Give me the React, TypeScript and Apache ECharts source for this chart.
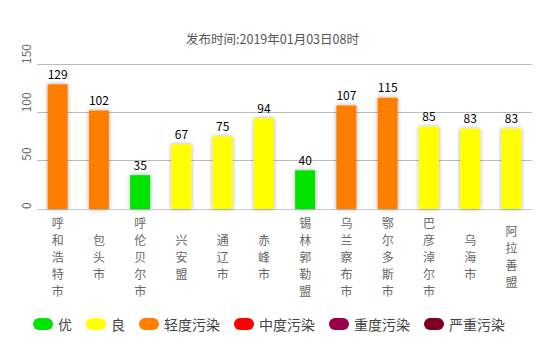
import React, { useEffect, useRef } from "react";
import * as echarts from "echarts";

const titleText = "发布时间:2019年01月03日08时";
const cities = ["呼和浩特市", "包头市", "呼伦贝尔市", "兴安盟", "通辽市", "赤峰市", "锡林郭勒盟", "乌兰察布市", "鄂尔多斯市", "巴彦淖尔市", "乌海市", "阿拉善盟"];
const aqiValues = [129, 102, 35, 67, 75, 94, 40, 107, 115, 85, 83, 83];
const levelNames = ["优", "良", "轻度污染", "中度污染", "重度污染", "严重污染"];
const levelColors = ["#00e400", "#ffff00", "#ff7e00", "#ff0000", "#99004c", "#7e0023"];
const levelUpper = [50, 100, 150, 200, 300, 100000];
const yTicks = [0, 50, 100, 150];

const FONT = "'Microsoft YaHei', 'Noto Sans CJK SC', sans-serif";

function levelOf(v: number): number {
  for (let i = 0; i < levelUpper.length; i++) if (v <= levelUpper[i]) return i;
  return levelUpper.length - 1;
}

export default function App() {
  const ref = useRef<HTMLDivElement>(null);
  useEffect(() => {
    if (!ref.current) return;
    const chart = echarts.init(ref.current, null, { renderer: "svg" });
    const series = levelNames.map((name, li) => ({
      name,
      type: "bar",
      stack: "aqi",
      barWidth: 20,
      itemStyle: {
        color: levelColors[li],
        shadowColor: "rgba(0,0,0,0.35)",
        shadowBlur: 4,
      },
      label: {
        show: true,
        position: "top",
        color: "#000",
        fontSize: 12,
        fontFamily: FONT,
      },
      data: aqiValues.map((v) => (levelOf(v) === li ? v : "-")),
    }));
    chart.setOption({
      animation: false,
      title: {
        text: titleText,
        left: "center",
        top: 27,
        textStyle: { fontSize: 12.5, fontWeight: "normal", color: "#555", fontFamily: FONT },
      },
      legend: {
        data: levelNames,
        bottom: 12,
        left: 28,
        itemWidth: 20,
        itemHeight: 12,
        itemGap: 14,
        icon: "path://M6,0 L14,0 A6,6 0 0 1 14,12 L6,12 A6,6 0 0 1 6,0 Z",
        textStyle: { fontSize: 14, color: "#444", fontFamily: FONT },
      },
      grid: { left: 37, right: 13, top: 64, bottom: 139 },
      xAxis: {
        type: "category",
        data: cities,
        axisLine: { lineStyle: { color: "#c0cbdc" } },
        axisTick: { lineStyle: { color: "#c0cbdc" }, length: 5 },
        axisLabel: {
          interval: 0,
          color: "#666",
          fontSize: 12,
          lineHeight: 17,
          fontFamily: FONT,
          verticalAlign: "middle",
          margin: 47,
          formatter: (s: string) => s.split("").join("\n"),
        },
      },
      yAxis: {
        type: "value",
        min: yTicks[0],
        max: yTicks[yTicks.length - 1],
        interval: 50,
        axisLine: { show: false },
        axisTick: { show: false },
        splitLine: { lineStyle: { color: "#bbb" } },
        axisLabel: {
          rotate: 90,
          align: "left",
          color: "#666",
          fontSize: 12,
          fontFamily: FONT,
          margin: 6,
        },
      },
      series,
    });
    return () => chart.dispose();
  }, []);
  return <div ref={ref} style={{ width: 545, height: 348, position: "absolute", left: 0, top: 0 }} />;
}
